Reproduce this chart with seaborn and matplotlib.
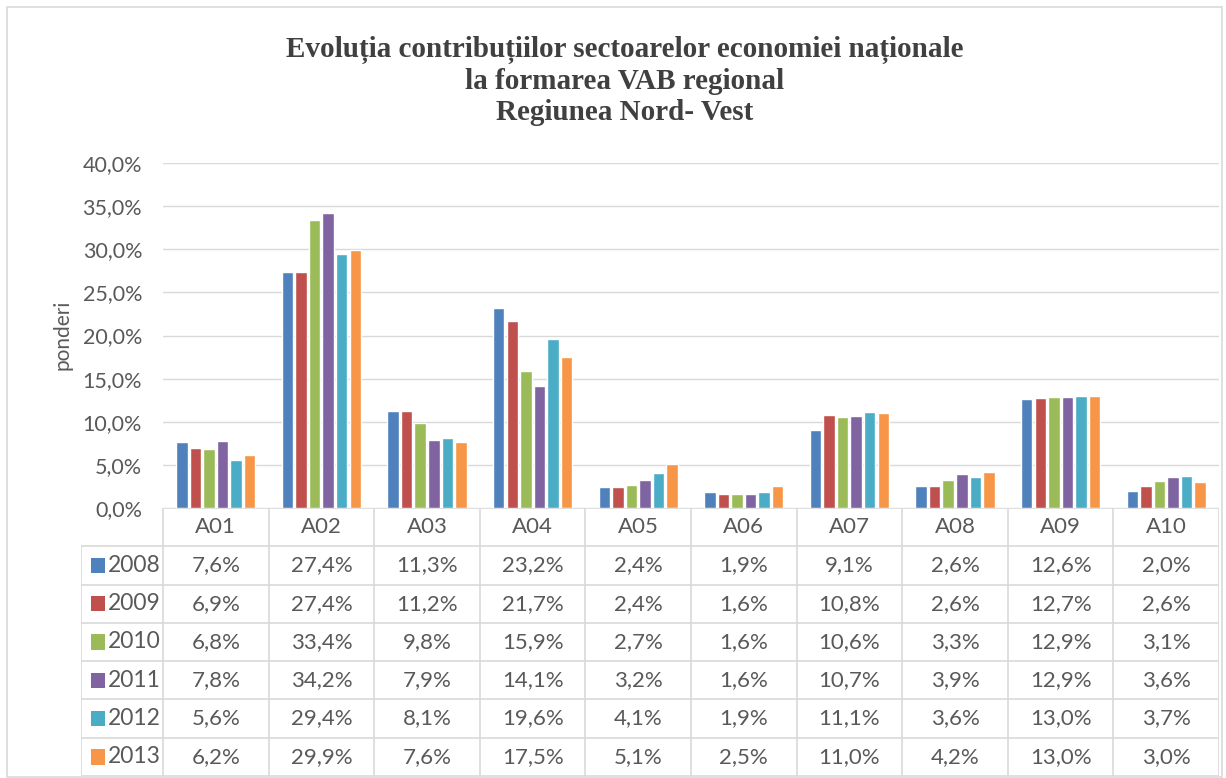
import numpy as np
import pandas as pd
import seaborn as sns
import matplotlib.pyplot as plt
from matplotlib.patches import Rectangle

# date din grafic (ponderi in %)
sectoare = ["A01", "A02", "A03", "A04", "A05", "A06", "A07", "A08", "A09", "A10"]
ani = ["2008", "2009", "2010", "2011", "2012", "2013"]
v2008 = [7.6, 27.4, 11.3, 23.2, 2.4, 1.9, 9.1, 2.6, 12.6, 2.0]
v2009 = [6.9, 27.4, 11.2, 21.7, 2.4, 1.6, 10.8, 2.6, 12.7, 2.6]
v2010 = [6.8, 33.4, 9.8, 15.9, 2.7, 1.6, 10.6, 3.3, 12.9, 3.1]
v2011 = [7.8, 34.2, 7.9, 14.1, 3.2, 1.6, 10.7, 3.9, 12.9, 3.6]
v2012 = [5.6, 29.4, 8.1, 19.6, 4.1, 1.9, 11.1, 3.6, 13.0, 3.7]
v2013 = [6.2, 29.9, 7.6, 17.5, 5.1, 2.5, 11.0, 4.2, 13.0, 3.0]
valori = [v2008, v2009, v2010, v2011, v2012, v2013]
culori = ["#4F81BD", "#C0504D", "#9BBB59", "#8064A2", "#4BACC6", "#F79646"]
yticks = [0, 5, 10, 15, 20, 25, 30, 35, 40]

titlu = ("Evoluția contribuțiilor sectoarelor economiei naționale\n"
         "la formarea VAB regional\nRegiunea Nord- Vest")

rows = []
for an, vals in zip(ani, valori):
    for s, v in zip(sectoare, vals):
        rows.append({"sector": s, "an": an, "pondere": v})
df = pd.DataFrame(rows)

def fmt(v):
    return f"{v:.1f}%".replace(".", ",")

sns.set_style("white")
plt.rcParams["font.family"] = ["Lato", "DejaVu Sans"]
gri = "#595959"
linie = "#D9D9D9"

W, H = 1226, 778
fig = plt.figure(figsize=(W / 100, H / 100), dpi=100)

# zona graficului cu bare
x0, x1, ytop, y0 = 163, 1219, 163, 508
ax = fig.add_axes([x0 / W, 1 - y0 / H, (x1 - x0) / W, (y0 - ytop) / H])
sns.barplot(data=df, x="sector", y="pondere", hue="an", palette=culori,
            width=0.77, gap=0.15, saturation=1, legend=False, ax=ax)
ax.set_ylim(0, 40)
ax.set_xlim(-0.5, len(sectoare) - 0.5)
ax.set_yticks(yticks)
ax.set_yticklabels([fmt(t) for t in yticks], color=gri, fontsize=15.5)
ax.tick_params(axis="y", length=0, pad=15)
ax.set_xticks([])
ax.set_xlabel("")
ax.set_ylabel("")
ax.yaxis.grid(True, color=linie, linewidth=1)
ax.set_axisbelow(True)
for sp in ax.spines.values():
    sp.set_visible(False)

fig.text(63 / W, 1 - 335 / H, "ponderi", rotation=90, ha="center", va="center",
         color=gri, fontsize=15)

# tabelul de date sub grafic
tx0, ty1 = 81, 776
col_w = (x1 - x0) / len(sectoare)
left_lim = -0.5 - (x0 - tx0) / col_w
tax = fig.add_axes([tx0 / W, 1 - ty1 / H, (x1 - tx0) / W, (ty1 - y0) / H])
tax.set_xlim(left_lim, len(sectoare) - 0.5)
nrows = len(ani) + 1
tax.set_ylim(nrows, 0)
tax.axis("off")

tax.plot([-0.5, len(sectoare) - 0.5], [0, 0], color=linie, lw=1.2)
for r in range(1, nrows + 1):
    tax.plot([left_lim, len(sectoare) - 0.5], [r, r], color=linie, lw=1.2)
tax.plot([left_lim, left_lim], [1, nrows], color=linie, lw=1.2)
for k in range(len(sectoare) + 1):
    tax.plot([k - 0.5, k - 0.5], [0, nrows], color=linie, lw=1.2)

for j, s in enumerate(sectoare):
    tax.text(j, 0.5, s, ha="center", va="center", color=gri, fontsize=16)
for i, (an, vals, c) in enumerate(zip(ani, valori, culori)):
    yc = i + 1.5
    tax.add_patch(Rectangle((left_lim + 0.09, yc - 0.2), 0.14, 0.4,
                            facecolor=c, edgecolor="none"))
    tax.text(left_lim + 0.25, yc, an, ha="left", va="center", color=gri, fontsize=16.5)
    for j, v in enumerate(vals):
        tax.text(j, yc, fmt(v), ha="center", va="center", color=gri, fontsize=16)

fig.text(625 / W, 1 - 81 / H, titlu, ha="center", va="center", fontsize=21,
         family=["Liberation Serif", "DejaVu Serif"], fontweight="bold",
         color="#404040", linespacing=1.2)

fig.patches.append(Rectangle((7 / W, 1 - 777 / H), 1215 / W, 770 / H,
                             transform=fig.transFigure, fill=False,
                             edgecolor=linie, linewidth=1.2))

fig.savefig("out.png", dpi=100)
